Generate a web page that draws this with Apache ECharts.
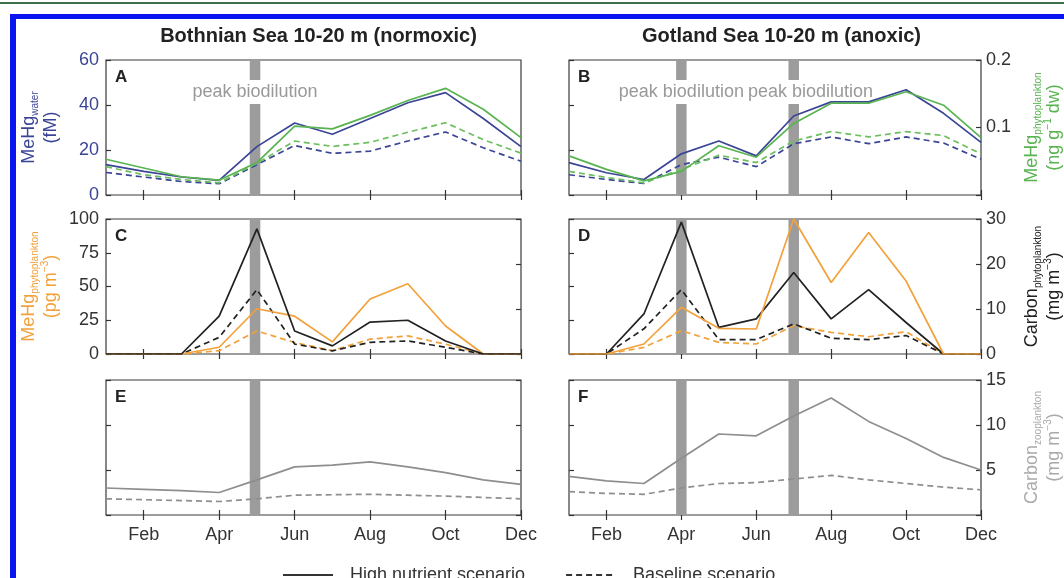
<!DOCTYPE html>
<html>
<head>
<meta charset="utf-8">
<script src="https://cdn.jsdelivr.net/npm/echarts@6/dist/echarts.min.js"></script>
<style>
  html, body { margin: 0; padding: 0; background: #fff; }
  #chart { width: 1064px; height: 578px; }
</style>
</head>
<body>
<div id="chart"></div>
<script>
// month axis
const months = ['Jan', 'Feb', 'Mar', 'Apr', 'May', 'Jun', 'Jul', 'Aug', 'Sep', 'Oct', 'Nov', 'Dec'];
const monthTicks = [2, 4, 6, 8, 10, 12];

// Bothnian Sea (A) MeHg water, fM
const bothWaterHigh = [13.5, 10.5, 8, 6.5, 21.5, 32, 27, 34, 41, 45.5, 34, 21.5];
const bothWaterBase = [10, 8, 6, 5, 13.5, 22, 18.5, 19.5, 24, 28, 21, 15];
// Bothnian Sea (A) MeHg phytoplankton, ng/g dw
const bothPhytoHgHigh = [0.053, 0.04, 0.027, 0.022, 0.048, 0.102, 0.098, 0.118, 0.14, 0.158, 0.127, 0.085];
const bothPhytoHgBase = [0.042, 0.03, 0.023, 0.018, 0.047, 0.08, 0.072, 0.078, 0.093, 0.107, 0.082, 0.062];

// Gotland Sea (B)
const gotWaterHigh = [14.4, 9.9, 6.9, 18.3, 24, 17.4, 35.1, 41.4, 41.4, 46.8, 36.3, 23.4];
const gotWaterBase = [9, 6.9, 5.1, 13.5, 16.8, 12.6, 22.8, 25.8, 22.8, 25.8, 23.1, 15.9];
const gotPhytoHgHigh = [0.058, 0.038, 0.021, 0.035, 0.073, 0.056, 0.106, 0.136, 0.136, 0.153, 0.133, 0.085];
const gotPhytoHgBase = [0.035, 0.026, 0.018, 0.038, 0.059, 0.048, 0.08, 0.094, 0.086, 0.094, 0.088, 0.061];

// C: MeHg phytoplankton pg/m3 and carbon phytoplankton mg/m3
const bothPhytoMeHgHigh = [0, 0, 0, 5, 33.5, 28, 9, 40.7, 52, 20.7, 0, 0];
const bothPhytoMeHgBase = [0, 0, 0, 2.5, 17, 8.5, 2.5, 11, 13.4, 7.3, 0, 0];
const bothPhytoCHigh = [0, 0, 0, 8.4, 27.8, 5.1, 1.8, 7.1, 7.5, 2.9, 0, 0];
const bothPhytoCBase = [0, 0, 0, 3.7, 14.3, 2.2, 0.7, 2.6, 2.9, 1.5, 0, 0];

// D
const gotPhytoMeHgHigh = [0, 0, 7.4, 34.6, 19, 18.5, 100, 53, 90, 54, 0, 0];
const gotPhytoMeHgBase = [0, 0, 4.9, 17.3, 8.6, 7.4, 21, 16, 12.8, 16.5, 0, 0];
const gotPhytoCHigh = [0, 0, 8.9, 29.3, 5.9, 7.8, 18.1, 7.8, 14.3, 7.0, 0, 0];
const gotPhytoCBase = [0, 0, 5.6, 14.3, 3.2, 3.2, 6.7, 3.5, 3.2, 4.1, 0, 0];

// E / F: carbon zooplankton mg/m3
const bothZooHigh = [3.0, 2.85, 2.7, 2.5, 3.9, 5.35, 5.55, 5.9, 5.35, 4.7, 3.9, 3.4];
const bothZooBase = [1.8, 1.7, 1.6, 1.5, 1.8, 2.2, 2.25, 2.3, 2.2, 2.1, 1.95, 1.8];
const gotZooHigh = [4.3, 3.8, 3.5, 6.3, 9.0, 8.8, 11.0, 13.0, 10.4, 8.5, 6.4, 5.0];
const gotZooBase = [2.6, 2.4, 2.3, 3.0, 3.5, 3.6, 4.0, 4.4, 3.9, 3.5, 3.1, 2.8];

// peak biodilution months
const bothPeaks = [4.95];
const gotPeaks = [4.0, 7.0];

const FONT = '"Liberation Sans", Arial, Helvetica, sans-serif';
const BLUE = '#3a4596', GREEN = '#58b450', ORANGE = '#f2a13b', BLACK = '#222', ZOO = '#8e8e8e';
const COLS = [106, 569], ROWS = [60, 219, 380], W = 415, H = 135;

const chart = echarts.init(document.getElementById('chart'));

const grids = [];
const xAxes = [];
const yAxes = [];
for (let r = 0; r < 3; r++) {
  for (let c = 0; c < 2; c++) {
    const g = grids.length;
    grids.push({ left: COLS[c], top: ROWS[r], width: W, height: H, show: true,
      borderColor: '#3a3a3a', borderWidth: 1.2, backgroundColor: 'transparent' });
    ['bottom', 'top'].forEach((pos) => {
      xAxes.push({
        type: 'value', gridIndex: g, position: pos, min: 1, max: 12,
        axisLine: { show: false }, splitLine: { show: false },
        axisTick: { show: true, inside: true, length: 5, customValues: monthTicks,
          lineStyle: { color: '#333', width: 1.2 } },
        axisLabel: { show: pos === 'bottom' && r === 2, customValues: monthTicks,
          formatter: (v) => months[v - 1], fontSize: 18, color: '#333', margin: 11, fontFamily: FONT },
      });
    });
  }
}

function nameStyle(color) {
  return {
    color: color, fontFamily: FONT,
    rich: {
      m: { fontSize: 18, color: color, fontFamily: FONT, lineHeight: 22 },
      s: { fontSize: 10, color: color, fontFamily: FONT, verticalAlign: 'bottom', lineHeight: 22 },
      p: { fontSize: 10, color: color, fontFamily: FONT, verticalAlign: 'top', lineHeight: 22 },
    },
  };
}

// [left, right] for each panel A..F
const ySpec = [
  [{ max: 60, interval: 20, labels: true, color: BLUE,
     name: '{m|MeHg}{s|water}\n{m|(fM)}', nameColor: BLUE },
   { max: 0.2, interval: 0.1, ticks: false }],
  [{ max: 60, interval: 20 },
   { max: 0.2, interval: 0.1, labels: true, hideZero: true,
     name: '{m|MeHg}{s|phytoplankton}\n{m|(ng g}{p|−1}{m| dw)}', nameColor: GREEN }],
  [{ max: 100, interval: 25, labels: true,
     name: '{m|MeHg}{s|phytoplankton}\n{m|(pg m}{p|−3}{m|)}', nameColor: ORANGE },
   { max: 30, interval: 10 }],
  [{ max: 100, interval: 25 },
   { max: 30, interval: 10, labels: true,
     name: '{m|Carbon}{s|phytoplankton}\n{m|(mg m}{p|−3}{m|)}', nameColor: '#222' }],
  [{ max: 15, interval: 5 }, { max: 15, interval: 5 }],
  [{ max: 15, interval: 5 },
   { max: 15, interval: 5, labels: true, hideZero: true,
     name: '{m|Carbon}{s|zooplankton}\n{m|(mg m}{p|−3}{m|)}', nameColor: '#aaa' }],
];

ySpec.forEach((pair, g) => {
  pair.forEach((s, side) => {
    const ax = {
      type: 'value', gridIndex: g, position: side === 0 ? 'left' : 'right',
      min: 0, max: s.max, interval: s.interval,
      axisLine: { show: false }, splitLine: { show: false },
      axisTick: { show: s.ticks !== false, inside: true, length: 5, lineStyle: { color: '#333', width: 1.2 } },
      axisLabel: { show: !!s.labels, fontSize: 18, color: s.color || '#333', fontFamily: FONT,
        margin: side === 0 ? 7 : 5,
        formatter: (v) => (s.hideZero && v === 0 ? '' : String(+v.toFixed(2))) },
    };
    if (s.name) {
      ax.name = s.name;
      ax.nameLocation = 'middle';
      ax.nameRotate = 90;
      ax.nameGap = side === 0 ? 44 : 40;
      ax.nameTextStyle = nameStyle(s.nameColor);
    }
    yAxes.push(ax);
  });
});

const pts = (arr) => arr.map((v, i) => [i + 1, v]);

function line(name, data, g, side, color, dashed) {
  return {
    type: 'line', name: name, xAxisIndex: 2 * g, yAxisIndex: 2 * g + side,
    data: pts(data), symbol: 'none', silent: true, z: 3,
    lineStyle: { color: color, width: 1.7, type: dashed ? [6, 4] : 'solid' },
    itemStyle: { color: color },
  };
}

function peakBars(g, peaks) {
  return {
    type: 'line', xAxisIndex: 2 * g, yAxisIndex: 2 * g, data: [], z: 1, silent: true,
    markArea: { silent: true, itemStyle: { color: '#9c9c9c', opacity: 1 }, label: { show: false },
      data: peaks.map((p) => [{ xAxis: p - 0.14 }, { xAxis: p + 0.14 }]) },
  };
}

function peakLabel(g, xs) {
  return {
    type: 'scatter', xAxisIndex: 2 * g, yAxisIndex: 2 * g, z: 2, silent: true,
    symbolSize: 1, itemStyle: { color: 'transparent' },
    data: xs.map((x) => [x, 45.8]),
    label: { show: true, position: 'inside', formatter: 'peak biodilution', color: '#999',
      fontSize: 18, fontFamily: FONT, backgroundColor: '#fff', padding: [3, 2], opacity: 1 },
  };
}

const series = [
  peakBars(0, bothPeaks), peakBars(2, bothPeaks), peakBars(4, bothPeaks),
  peakBars(1, gotPeaks), peakBars(3, gotPeaks), peakBars(5, gotPeaks),
  peakLabel(0, [bothPeaks[0]]), peakLabel(1, [gotPeaks[0], 7.45]),
  // A
  line('A water base', bothWaterBase, 0, 0, BLUE, true),
  line('A phyto base', bothPhytoHgBase, 0, 1, '#6cbf5e', true),
  line('A water high', bothWaterHigh, 0, 0, BLUE, false),
  line('A phyto high', bothPhytoHgHigh, 0, 1, GREEN, false),
  // B
  line('B water base', gotWaterBase, 1, 0, BLUE, true),
  line('B phyto base', gotPhytoHgBase, 1, 1, '#6cbf5e', true),
  line('B water high', gotWaterHigh, 1, 0, BLUE, false),
  line('B phyto high', gotPhytoHgHigh, 1, 1, GREEN, false),
  // C
  line('C hg base', bothPhytoMeHgBase, 2, 0, ORANGE, true),
  line('C c base', bothPhytoCBase, 2, 1, BLACK, true),
  line('C hg high', bothPhytoMeHgHigh, 2, 0, ORANGE, false),
  line('C c high', bothPhytoCHigh, 2, 1, BLACK, false),
  // D
  line('D hg base', gotPhytoMeHgBase, 3, 0, ORANGE, true),
  line('D c base', gotPhytoCBase, 3, 1, BLACK, true),
  line('D c high', gotPhytoCHigh, 3, 1, BLACK, false),
  line('D hg high', gotPhytoMeHgHigh, 3, 0, ORANGE, false),
  // E, F
  line('E base', bothZooBase, 4, 0, ZOO, true),
  line('E high', bothZooHigh, 4, 0, ZOO, false),
  line('F base', gotZooBase, 5, 0, ZOO, true),
  line('F high', gotZooHigh, 5, 0, ZOO, false),
  // legend entries
  line('High nutrient scenario', [], 0, 0, '#333', false),
  line('Baseline scenario', [], 0, 0, '#333', true),
];

const letters = ['A', 'B', 'C', 'D', 'E', 'F'];
const titles = [
  { text: 'Bothnian Sea 10-20 m (normoxic)', left: COLS[0] + W / 2, top: 21, textAlign: 'center',
    textStyle: { fontSize: 20, fontWeight: 'bold', color: '#222', fontFamily: FONT } },
  { text: 'Gotland Sea 10-20 m (anoxic)', left: COLS[1] + W / 2, top: 21, textAlign: 'center',
    textStyle: { fontSize: 20, fontWeight: 'bold', color: '#222', fontFamily: FONT } },
].concat(letters.map((t, i) => ({
  text: t, left: COLS[i % 2] + 9, top: ROWS[Math.floor(i / 2)] + 9, padding: 0,
  textStyle: { fontSize: 17, fontWeight: 'bold', color: '#222', fontFamily: FONT },
})));

chart.setOption({
  animation: false,
  textStyle: { fontFamily: FONT },
  title: titles,
  grid: grids,
  xAxis: xAxes,
  yAxis: yAxes,
  legend: {
    data: ['High nutrient scenario', 'Baseline scenario'],
    left: 277, top: 561, itemWidth: 50, itemHeight: 14, itemGap: 40,
    itemStyle: { opacity: 0 },
    textStyle: { fontSize: 18, color: '#333', fontFamily: FONT, padding: [0, 0, 0, 12] },
  },
  graphic: [
    { type: 'rect', shape: { x: 0, y: 2, width: 1064, height: 2 }, style: { fill: '#3b7048' }, silent: true },
    { type: 'rect', shape: { x: 10, y: 14, width: 1054, height: 5 }, style: { fill: '#0a14f0' }, silent: true },
    { type: 'rect', shape: { x: 10, y: 14, width: 6, height: 564 }, style: { fill: '#0a14f0' }, silent: true },
  ],
  series: series,
});
</script>
</body>
</html>
